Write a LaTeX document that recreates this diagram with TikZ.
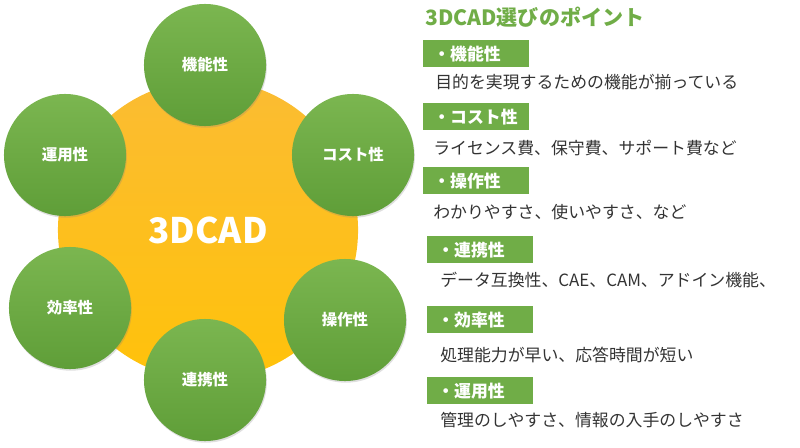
\documentclass[tikz,border=0pt]{standalone}
\usepackage{fontspec}
\setmainfont{Noto Sans CJK JP}
\usetikzlibrary{shadows}

\definecolor{cadgreen}{HTML}{70AD47}
\definecolor{greenlight}{HTML}{7BB650}
\definecolor{greendark}{HTML}{5F9E38}
\definecolor{hubtop}{HTML}{FBBC33}
\definecolor{hubbottom}{HTML}{FFC20A}
\definecolor{desctext}{HTML}{333333}

\begin{document}
\begin{tikzpicture}[x=0.025cm,y=-0.025cm,
  hub/.style={circle,minimum size=7.5cm,inner sep=0pt,top color=hubtop,bottom color=hubbottom,
    text=white,font=\fontsize{25}{30}\selectfont\bfseries},
  point/.style={circle,minimum size=3.05cm,inner sep=0pt,top color=greenlight,bottom color=greendark,
    text=white,font=\fontsize{11}{13}\selectfont\bfseries,
    drop shadow={shadow xshift=0.6pt,shadow yshift=-1.2pt,opacity=0.25}},
  ptbox/.style={rectangle,fill=cadgreen,anchor=north west,inner xsep=0.25cm,inner ysep=0pt,
    text width=2.15cm,minimum height=0.675cm,align=left,
    text=white,font=\fontsize{12}{14}\selectfont\bfseries},
  ptdesc/.style={anchor=west,inner sep=0pt,text=desctext,font=\fontsize{12}{14}\selectfont}]
\useasboundingbox (0,0) rectangle (800,447);

% centre
\node[hub] (cad) at (208,230) {3DCAD};

% six points round the centre
\node[point] (kinou)  at (205,65)  {機能性};
\node[point] (cost)   at (353,155) {コスト性};
\node[point] (sousa)  at (345,320) {操作性};
\node[point] (renkei) at (205,380) {連携性};
\node[point] (kouritu) at (70,308) {効率性};
\node[point] (unyou)  at (65,155)  {運用性};

% list on the right
\node[anchor=west,inner sep=0pt,text=cadgreen,font=\fontsize{15}{18}\selectfont\bfseries] (title) at (425,17) {3DCAD選びのポイント};

\node[ptbox] (b1) at (423,40)  {・機能性};
\node[ptdesc] (d1) at (435,82)  {目的を実現するための機能が揃っている};
\node[ptbox] (b2) at (423,103) {・コスト性};
\node[ptdesc] (d2) at (433,148) {ライセンス費、保守費、サポート費など};
\node[ptbox] (b3) at (423,167) {・操作性};
\node[ptdesc] (d3) at (433,212) {わかりやすさ、使いやすさ、など};
\node[ptbox] (b4) at (427,236) {・連携性};
\node[ptdesc] (d4) at (440,280) {データ互換性、CAE、CAM、アドイン機能、};
\node[ptbox] (b5) at (427,306) {・効率性};
\node[ptdesc] (d5) at (440,355) {処理能力が早い、応答時間が短い};
\node[ptbox] (b6) at (427,377) {・運用性};
\node[ptdesc] (d6) at (440,420) {管理のしやすさ、情報の入手のしやすさ};

\end{tikzpicture}
\end{document}
